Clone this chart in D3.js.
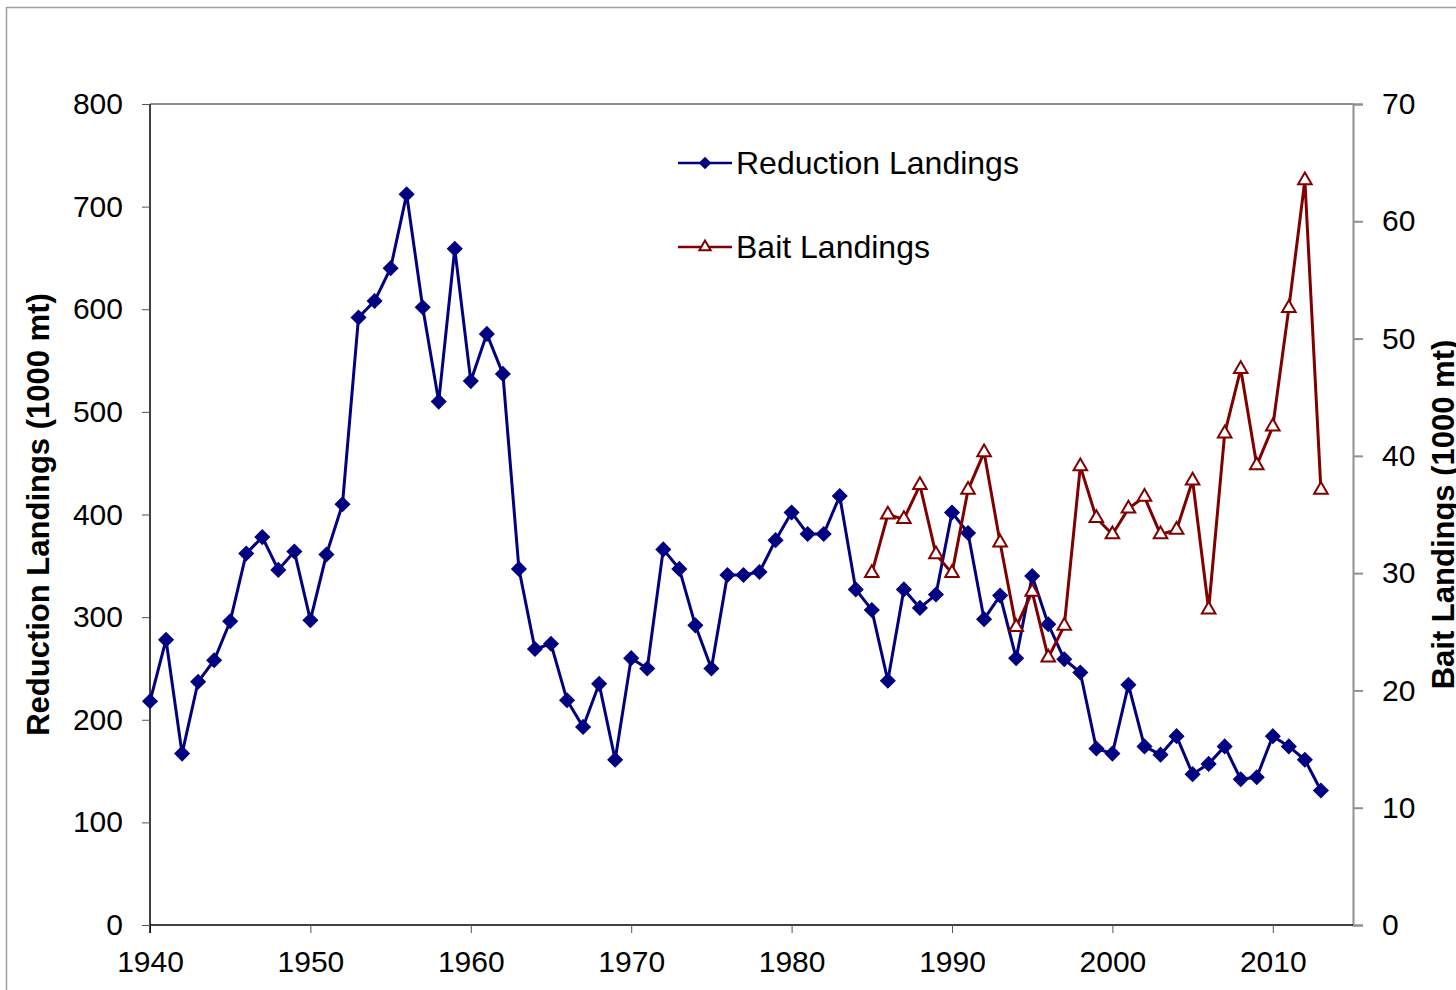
<!DOCTYPE html>
<html>
<head>
<meta charset="utf-8">
<script src="https://cdn.jsdelivr.net/npm/d3@7"></script>
<style>
  body { margin: 0; background: #fff; }
  svg { display: block; font-family: "Liberation Sans", Arial, sans-serif; }
</style>
</head>
<body>
<script>
// Years for each series
var years = d3.range(1940, 2014);
var baitYears = d3.range(1985, 2014);

// Reduction landings, 1940-2013 (1000 mt)
var reduction = [218, 278, 167, 237, 258, 296, 362, 378, 346, 364,
                 297, 361, 410, 592, 608, 640, 712, 602, 510, 659,
                 530, 576, 537, 347, 269, 274, 219, 193, 235, 161,
                 260, 250, 366, 347, 292, 250, 341, 341, 344, 375,
                 402, 381, 381, 418, 327, 307, 238, 327, 309, 322,
                 402, 382, 298, 321, 260, 340, 293, 259, 246, 172,
                 167, 234, 174, 166, 184, 147, 157, 174, 142, 144,
                 184, 174, 161, 131];

// Bait landings, 1985-2013 (1000 mt)
var bait = [30.0, 35.0, 34.6, 37.5, 31.6, 30.0, 37.1, 40.3, 32.6, 25.4,
            28.4, 22.8, 25.5, 39.1, 34.7, 33.3, 35.5, 36.5, 33.3, 33.7,
            37.9, 26.9, 41.9, 47.4, 39.2, 42.5, 52.6, 63.5, 37.1];

// Tick values
var xTicks = [1940, 1950, 1960, 1970, 1980, 1990, 2000, 2010];
var leftTicks = [0, 100, 200, 300, 400, 500, 600, 700, 800];
var rightTicks = [0, 10, 20, 30, 40, 50, 60, 70];

// Series names and colours
var names = ["Reduction Landings", "Bait Landings"];
var colors = ["#000080", "#800000"];

var width = 1456,
    height = 990;
var margin = {left: 150, right: 103, top: 104, bottom: 65};

var svg = d3.select("body").append("svg")
    .attr("width", width)
    .attr("height", height);

// Outer chart frame
svg.append("rect")
    .attr("x", 6.5).attr("y", 7.5)
    .attr("width", 1500).attr("height", 1000)
    .attr("fill", "none")
    .attr("stroke", "#a0a0a0")
    .attr("stroke-width", 1.5);

// Scales
var x = d3.scaleLinear()
    .domain([1940, 2015])
    .range([margin.left, width - margin.right]);

var yLeft = d3.scaleLinear()
    .domain([0, 800])
    .range([height - margin.bottom, margin.top]);

var yRight = d3.scaleLinear()
    .domain([0, 70])
    .range([height - margin.bottom, margin.top]);

// Top border of the plot area
svg.append("line")
    .attr("x1", x(1940)).attr("x2", x(2015))
    .attr("y1", yLeft(800)).attr("y2", yLeft(800))
    .attr("stroke", "#909090")
    .attr("stroke-width", 2);

// Right axis (grey)
var rightAxis = svg.append("g")
    .attr("transform", "translate(" + x(2015) + ",0)")
    .call(d3.axisRight(yRight).tickValues(rightTicks).tickSize(10).tickPadding(19));
rightAxis.selectAll("line, path").attr("stroke", "#909090").attr("stroke-width", 2);

// Bottom axis
var bottomAxis = svg.append("g")
    .attr("transform", "translate(0," + yLeft(0) + ")")
    .call(d3.axisBottom(x).tickValues(xTicks).tickFormat(d3.format("d")).tickSize(8).tickPadding(18));
bottomAxis.select(".domain").attr("d", "M" + x(1940) + ",0H" + x(2015)).attr("stroke", "#000").attr("stroke-width", 1.5);
bottomAxis.selectAll("line").attr("stroke", "#555");

// Left axis
var leftAxis = svg.append("g")
    .attr("transform", "translate(" + x(1940) + ",0)")
    .call(d3.axisLeft(yLeft).tickValues(leftTicks).tickSize(8).tickPadding(19));
leftAxis.select(".domain").attr("d", "M0," + yLeft(800) + "V" + (yLeft(0) + 8)).attr("stroke", "#000").attr("stroke-width", 1.5);
leftAxis.selectAll("line").attr("stroke", "#555");

// Tick label font
svg.selectAll(".tick text")
    .attr("font-family", "'Liberation Sans', Arial, sans-serif")
    .attr("font-size", 30)
    .attr("fill", "#000");

// Axis titles
svg.append("text")
    .attr("transform", "translate(49," + yLeft(400) + ") rotate(-90)")
    .attr("text-anchor", "middle")
    .attr("font-size", 31)
    .attr("font-weight", "bold")
    .text("Reduction Landings (1000 mt)");

svg.append("text")
    .attr("transform", "translate(1454," + yRight(35) + ") rotate(-90)")
    .attr("text-anchor", "middle")
    .attr("font-size", 31)
    .attr("font-weight", "bold")
    .text("Bait Landings (1000 mt)");

// Marker shapes
var diamond = d3.symbol().type(d3.symbolSquare).size(130);
var triangle = d3.symbol().type(d3.symbolTriangle).size(80);

// Reduction line
var lineLeft = d3.line()
    .x(function(d, i) { return x(years[i]); })
    .y(function(d) { return yLeft(d); });

svg.append("path")
    .datum(reduction)
    .attr("fill", "none")
    .attr("stroke", colors[0])
    .attr("stroke-width", 3)
    .attr("d", lineLeft);

svg.append("g")
    .selectAll("path")
    .data(reduction)
    .enter()
    .append("path")
    .attr("d", diamond)
    .attr("transform", function(d, i) { return "translate(" + x(years[i]) + "," + yLeft(d) + ") rotate(45)"; })
    .attr("fill", colors[0]);

// Bait line
var lineRight = d3.line()
    .x(function(d, i) { return x(baitYears[i]); })
    .y(function(d) { return yRight(d); });

svg.append("path")
    .datum(bait)
    .attr("fill", "none")
    .attr("stroke", colors[1])
    .attr("stroke-width", 3)
    .attr("d", lineRight);

svg.append("g")
    .selectAll("path")
    .data(bait)
    .enter()
    .append("path")
    .attr("d", triangle)
    .attr("transform", function(d, i) { return "translate(" + x(baitYears[i]) + "," + yRight(d) + ")"; })
    .attr("fill", "#fff")
    .attr("stroke", colors[1])
    .attr("stroke-width", 2);

// Legend
var legend = svg.append("g")
    .attr("transform", "translate(678,163)");

var items = legend.selectAll("g")
    .data(names)
    .enter()
    .append("g")
    .attr("transform", function(d, i) { return "translate(0," + (i * 84) + ")"; });

items.append("line")
    .attr("x1", 0).attr("x2", 54)
    .attr("stroke", function(d, i) { return colors[i]; })
    .attr("stroke-width", 2.5);

items.append("path")
    .attr("d", function(d, i) { return i == 0 ? d3.symbol().type(d3.symbolSquare).size(80)() : d3.symbol().type(d3.symbolTriangle).size(55)(); })
    .attr("transform", function(d, i) { return i == 0 ? "translate(27,0) rotate(45)" : "translate(27,0)"; })
    .attr("fill", function(d, i) { return i == 0 ? colors[0] : "#fff"; })
    .attr("stroke", function(d, i) { return i == 0 ? "none" : colors[1]; })
    .attr("stroke-width", 2);

items.append("text")
    .attr("x", 58)
    .attr("y", 11)
    .attr("font-size", 32)
    .attr("fill", "#000")
    .text(function(d) { return d; });
</script>
</body>
</html>
